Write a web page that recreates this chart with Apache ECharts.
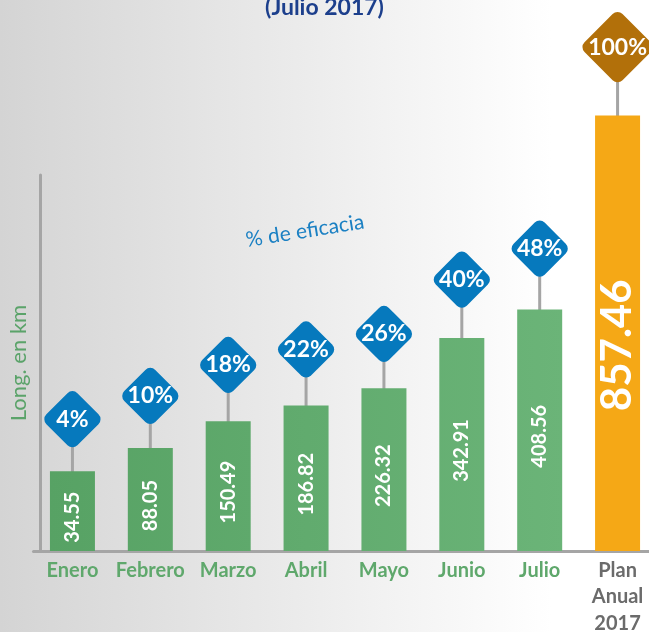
<!DOCTYPE html>
<html>
<head>
<meta charset="utf-8">
<title>Longitud en km (Julio 2017)</title>
<script src="https://cdn.jsdelivr.net/npm/echarts@6.0.0/dist/echarts.min.js"></script>
<style>
  html, body { margin: 0; padding: 0; }
  #chart { width: 649px; height: 632px; }
</style>
</head>
<body>
<div id="chart"></div>
<script>
const categories = ['Enero', 'Febrero', 'Marzo', 'Abril', 'Mayo', 'Junio', 'Julio', 'Plan\nAnual\n2017']
const kmValues = [34.55, 88.05, 150.49, 186.82, 226.32, 342.91, 408.56, 857.46]
const eficacia = [4, 10, 18, 22, 26, 40, 48, 100]

// el eje de km empieza por debajo de 0 (las barras arrancan ~150 km abajo)
const KM_OFFSET = 150
const KM_MAX = 870
// eje oculto para los rombos de % de eficacia
const PCT_MIN = -30
const PCT_MAX = 67

const FONT = 'Lato, "Open Sans", sans-serif'
const last = categories.length - 1

const chart = echarts.init(document.getElementById('chart'))

function diamondItem(params, api) {
  const i = api.value(0)
  const p = api.value(1)
  const pt = api.coord([i, p])
  const bottom = api.coord([i, PCT_MIN])[1]
  const isPlan = i === last
  const side = (isPlan ? 76 : 62) / Math.SQRT2
  return {
    type: 'group',
    children: [
      {
        type: 'line',
        shape: { x1: pt[0], y1: pt[1], x2: pt[0], y2: bottom },
        style: { stroke: '#A5A5A5', lineWidth: 3 }
      },
      {
        type: 'rect',
        x: pt[0],
        y: pt[1],
        rotation: Math.PI / 4,
        shape: { x: -side / 2, y: -side / 2, width: side, height: side, r: 7 },
        style: { fill: isPlan ? '#B2700A' : '#0679BD' }
      },
      {
        type: 'text',
        x: pt[0],
        y: pt[1],
        style: {
          text: p + '%',
          fill: '#fff',
          font: 'bold 23px ' + FONT,
          align: 'center',
          verticalAlign: 'middle'
        }
      }
    ]
  }
}

chart.setOption({
  backgroundColor: new echarts.graphic.LinearGradient(0, 0, 1, 0, [
    { offset: 0, color: '#D4D4D4' },
    { offset: 0.85, color: '#FFFFFF' },
    { offset: 1, color: '#FFFFFF' }
  ]),
  textStyle: { fontFamily: FONT },
  title: {
    text: '(Julio 2017)',
    left: 'center',
    top: -4,
    padding: 0,
    textStyle: { color: '#1C3F8C', fontSize: 23, fontWeight: 'bold', fontFamily: FONT }
  },
  graphic: [
    {
      type: 'text',
      x: 305,
      y: 231,
      rotation: 9 * Math.PI / 180,
      style: {
        text: '% de eficacia',
        fill: '#1B80C3',
        font: '21px ' + FONT,
        align: 'center',
        verticalAlign: 'middle'
      }
    }
  ],
  grid: {
    left: 33.5,
    width: 623,
    top: 175,
    height: 376,
    outerBoundsMode: 'none'
  },
  xAxis: {
    type: 'category',
    data: categories.map((c, i) => i === last ? { value: c, textStyle: { color: '#6B6B6B' } } : c),
    axisLine: { lineStyle: { color: '#A5A5A5', width: 3 } },
    axisTick: { show: false },
    axisLabel: {
      color: '#5FA86C',
      fontSize: 20,
      fontWeight: 'bold',
      lineHeight: 26.5,
      margin: 6,
      interval: 0
    }
  },
  yAxis: [
    {
      type: 'value',
      min: 0,
      max: KM_MAX,
      offset: -6.5,
      name: 'Long. en km',
      nameLocation: 'middle',
      nameRotate: 90,
      nameGap: 10,
      nameTextStyle: { color: '#5BA36A', fontSize: 22 },
      axisLine: { show: true, lineStyle: { color: '#A5A5A5', width: 3 } },
      axisTick: { show: false },
      axisLabel: { show: false },
      splitLine: { show: false }
    },
    {
      type: 'value',
      min: PCT_MIN,
      max: PCT_MAX,
      show: false,
      splitLine: { show: false }
    }
  ],
  series: [
    {
      type: 'custom',
      yAxisIndex: 1,
      z: 1,
      clip: false,
      renderItem: diamondItem,
      data: eficacia.map((p, i) => [i, p])
    },
    {
      type: 'bar',
      yAxisIndex: 0,
      z: 2,
      clip: false,
      barWidth: 45,
      itemStyle: {
        color: new echarts.graphic.LinearGradient(50, 0, 564, 0, [
          { offset: 0, color: '#57A264' },
          { offset: 1, color: '#6BB478' }
        ], true)
      },
      label: {
        show: true,
        position: 'inside',
        rotate: 90,
        offset: [-6, 0], // el texto va girado: -x baja la etiqueta
        color: '#fff',
        fontSize: 20,
        fontWeight: 'bold',
        formatter: (p) => kmValues[p.dataIndex].toFixed(2)
      },
      data: kmValues.map((v, i) => {
        if (i === last) {
          return {
            value: v + KM_OFFSET,
            itemStyle: { color: '#F5A816' },
            label: { fontSize: 42, offset: [-12, 0] }
          }
        }
        return v + KM_OFFSET
      })
    }
  ]
})
</script>
</body>
</html>
